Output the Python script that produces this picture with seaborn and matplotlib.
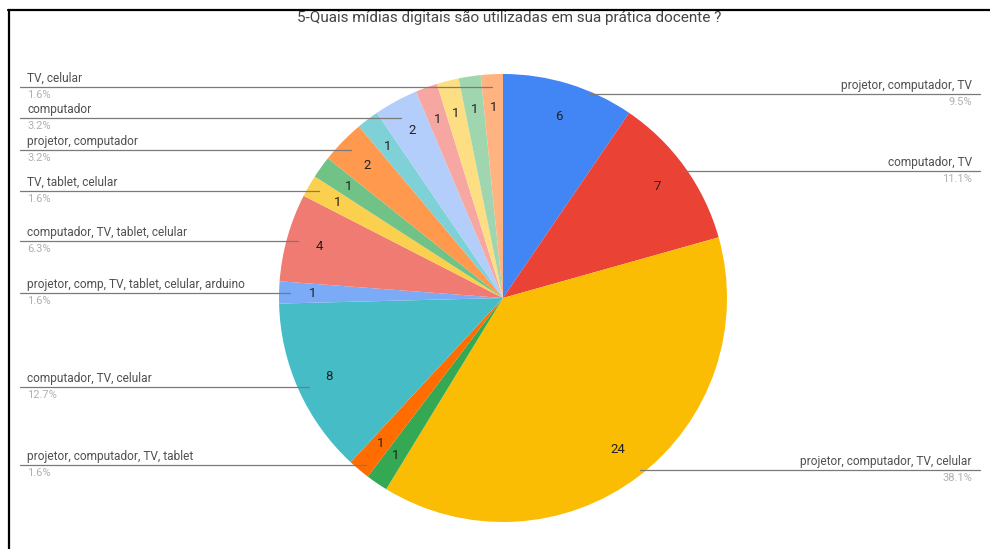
import matplotlib
matplotlib.use("Agg")
import matplotlib.pyplot as plt
from matplotlib.lines import Line2D
import numpy as np
import seaborn as sns

sns.set_theme(style="white")
plt.rcParams["font.family"] = ["Roboto", "DejaVu Sans"]

title = "5-Quais mídias digitais são utilizadas em sua prática docente ?"

# answers, clockwise from 12 o'clock (unnamed entries carry no outside label)
categories = [
    "projetor, computador, TV",
    "computador, TV",
    "projetor, computador, TV, celular",
    "",
    "projetor, computador, TV, tablet",
    "computador, TV, celular",
    "projetor, comp, TV, tablet, celular, arduino",
    "computador, TV, tablet, celular",
    "TV, tablet, celular",
    "",
    "projetor, computador",
    "",
    "computador",
    "",
    "",
    "",
    "TV, celular",
]
counts = [6, 7, 24, 1, 1, 8, 1, 4, 1, 1, 2, 1, 2, 1, 1, 1, 1]

colors = sns.color_palette([
    "#4285F4", "#EA4335", "#FBBC04", "#34A853", "#FF6D01", "#46BDC6",
    "#7BAAF7", "#F07B72", "#FCD04F", "#71C287", "#FF994D", "#7ED1D7",
    "#B3CEFB", "#F7A7A1", "#FDDE82", "#A0D6AF", "#FFB380",
])

# outside label rows (pixel y of the leader line), keyed by slice index
label_rows = {0: 94, 1: 171, 2: 470, 4: 465, 5: 387, 6: 293, 7: 241,
              8: 191, 10: 150, 12: 118, 16: 87}

W, H = 990, 549
fig = plt.figure(figsize=(W / 100, H / 100), dpi=100)
ax = fig.add_axes([0, 0, 1, 1])

cx, cy, r = 503, 298, 224

# y axis is inverted, so counterclock=True turns clockwise on screen
wedges, _ = ax.pie(
    counts, colors=colors, startangle=-90, counterclock=True,
    center=(cx, cy), radius=r, frame=True,
    wedgeprops=dict(linewidth=0),
)
ax.set_xlim(0, W)
ax.set_ylim(H, 0)
ax.set_aspect("equal")
ax.axis("off")

name_kw = dict(fontsize=8.6, color="#505050")
pct_kw = dict(fontsize=8.0, color="#b0b0b0")
total = sum(counts)
for i, (w, n) in enumerate(zip(wedges, counts)):
    mid = np.deg2rad((w.theta1 + w.theta2) / 2)
    d = 0.85 * r
    ax.text(cx + d * np.cos(mid), cy + d * np.sin(mid), str(n),
            ha="center", va="center", fontsize=9.5, color="#222222")

    if i in label_rows and categories[i]:
        y = label_rows[i]
        pct = f"{100 * n / total:.1f}%"
        if np.cos(mid) >= 0:
            xe = cx + np.sqrt(max(r ** 2 - (y - cy) ** 2, 0)) - 6
            ax.plot([xe, 980], [y, y], color="#7a7a7a", lw=0.9)
            ax.text(972, y - 2, categories[i], ha="right", va="bottom", **name_kw)
            ax.text(972, y + 3, pct, ha="right", va="top", **pct_kw)
        else:
            xe = cx + 0.95 * r * np.cos(mid)
            ax.plot([20, xe], [y, y], color="#7a7a7a", lw=0.9)
            ax.text(27, y - 2, categories[i], ha="left", va="bottom", **name_kw)
            ax.text(27, y + 3, pct, ha="left", va="top", **pct_kw)

ax.text(509, 18, title, ha="center", va="center", fontsize=11, color="#444444")

# frame lines along the top and left edges
fig.add_artist(Line2D([8 / W, 1], [1 - 9.5 / H, 1 - 9.5 / H], color="black", lw=1.6))
fig.add_artist(Line2D([8.5 / W, 8.5 / W], [0, 1 - 9.5 / H], color="black", lw=1.6))

fig.savefig("out.png", dpi=100, facecolor="white")
